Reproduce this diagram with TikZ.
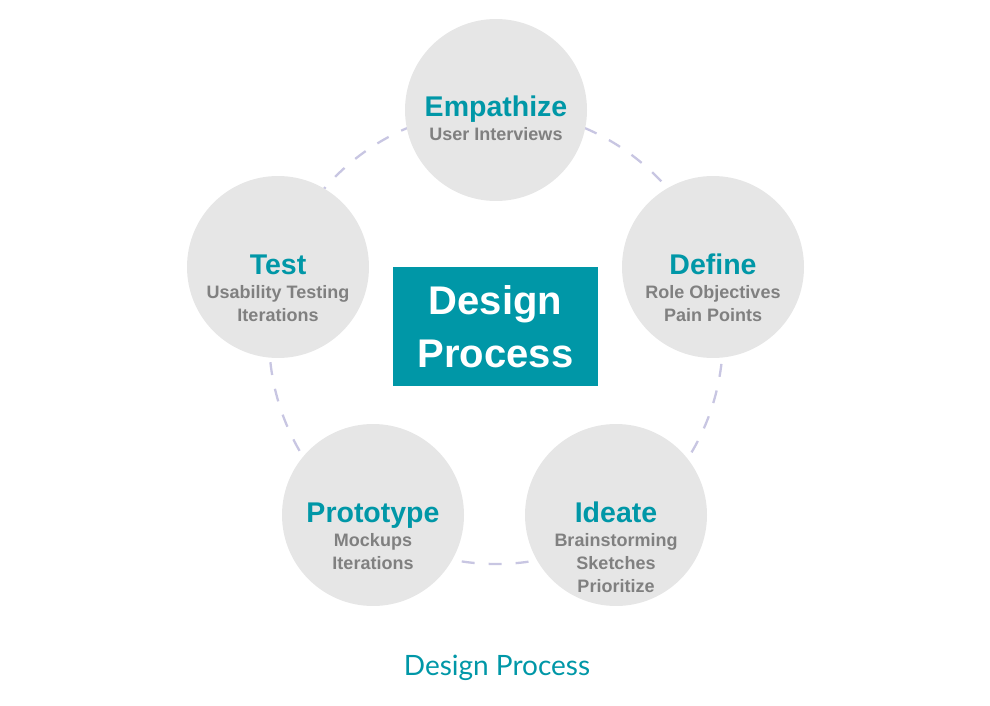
\documentclass[tikz,border=0pt]{standalone}
\usepackage{fontspec}
\setmainfont{Liberation Sans}
\newfontfamily\captionfont{Lato}
\usetikzlibrary{calc}

\definecolor{dpteal}{HTML}{0097A7}
\definecolor{dpgray}{HTML}{E6E6E6}
\definecolor{dptext}{HTML}{808080}
\definecolor{dpring}{HTML}{C8C6E2}

\begin{document}
\begin{tikzpicture}[x=1pt,y=-1pt,
  phase/.style={circle, fill=dpgray, minimum size=182pt, inner sep=0pt},
  head/.style={anchor=base, text=dpteal, inner sep=0pt, font=\fontsize{28.5}{30}\selectfont\bfseries},
  sub/.style={anchor=base, text=dptext, inner sep=0pt, font=\fontsize{18}{23}\selectfont\bfseries},
  ring/.style={draw=dpring, line width=2.3pt, dash pattern=on 13pt off 14pt},
  core/.style={fill=dpteal, minimum width=205pt, minimum height=119pt, text=white, align=center, font=\fontsize{40}{53}\selectfont\bfseries}]
  \useasboundingbox (0,0) rectangle (990,706);

  \begin{scope}
  \clip (0,0) rectangle (990,605);
  \coordinate (hub) at (496,337);
  \draw[ring] (hub) circle (227);

  % the five phases
  \node[phase] (emp) at (496,110) {};
  \node[phase] (def) at (713,267) {};
  \node[phase] (ide) at (616,515) {};
  \node[phase] (pro) at (373,515) {};
  \node[phase] (tst) at (278,267) {};
  \end{scope}

  \node[head] (emp-h) at ($(emp)+(0,7)$) {Empathize};
  \node[head] (def-h) at ($(def)+(0,7)$) {Define};
  \node[head] (ide-h) at ($(ide)+(0,7)$) {Ideate};
  \node[head] (pro-h) at ($(pro)+(0,7)$) {Prototype};
  \node[head] (tst-h) at ($(tst)+(0,7)$) {Test};

  % activities under each phase, one line each
  \foreach \n/\lines in {emp/{User Interviews}, def/{Role Objectives,Pain Points},
      ide/{Brainstorming,Sketches,Prioritize}, pro/{Mockups,Iterations},
      tst/{Usability Testing,Iterations}}
    \foreach \l [count=\k] in \lines
      \node[sub] (\n-s\k) at ($(\n-h.base)+(0,{1+23*\k})$) {\l};

  \node[core] (center) at (495.5,326.5) {Design\\Process};

  \node[anchor=base, text=dpteal, font=\captionfont\fontsize{28}{30}\selectfont] (caption) at (497,675) {Design Process};
\end{tikzpicture}
\end{document}
